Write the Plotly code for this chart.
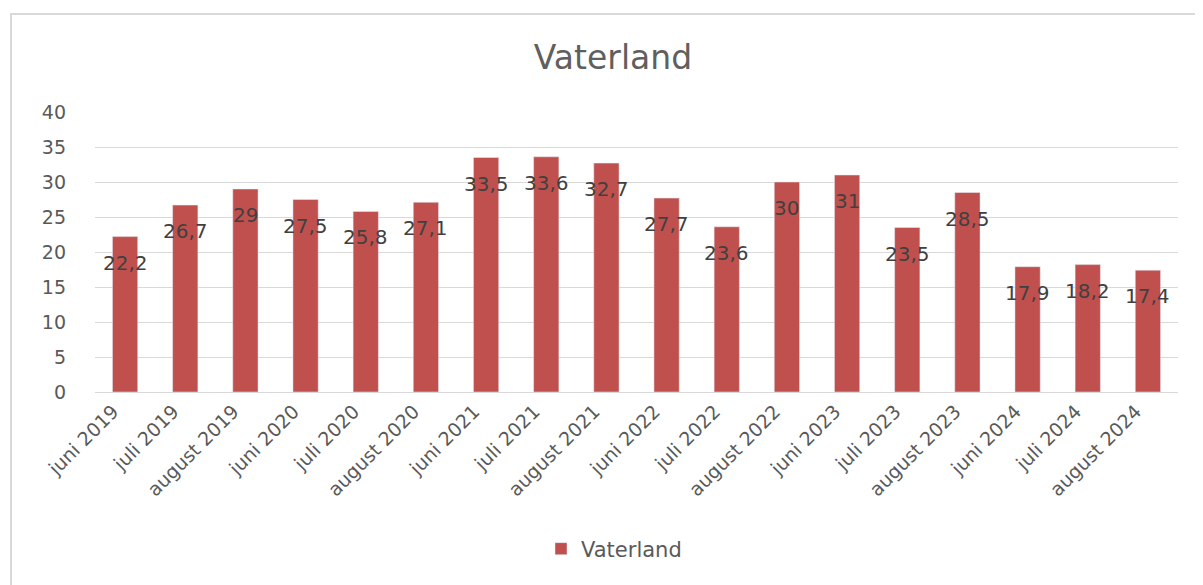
import plotly.graph_objects as go

categories = ["juni 2019", "juli 2019", "august 2019",
              "juni 2020", "juli 2020", "august 2020",
              "juni 2021", "juli 2021", "august 2021",
              "juni 2022", "juli 2022", "august 2022",
              "juni 2023", "juli 2023", "august 2023",
              "juni 2024", "juli 2024", "august 2024"]
values = [22.2, 26.7, 29, 27.5, 25.8, 27.1,
          33.5, 33.6, 32.7, 27.7, 23.6, 30,
          31, 23.5, 28.5, 17.9, 18.2, 17.4]
labels = [f"{v:g}".replace(".", ",") for v in values]
series_name = "Vaterland"
y_ticks = [0, 5, 10, 15, 20, 25, 30, 35, 40]

OFF = 8  # page body margin
W, H = 1203, 585
L, T = 95 - OFF, 112 - OFF
pw, ph = 1083, 280
R = W - L - pw
B = H - T - ph

def px_x(p):
    return (p - OFF - L) / pw

def px_y(p):
    return (T + ph - (p - OFF)) / ph

fig = go.Figure()
fig.add_trace(go.Bar(
    x=categories, y=values, name=series_name,
    marker=dict(color="#C0504D"),
    showlegend=True,
))

for c, v, t in zip(categories, values, labels):
    fig.add_annotation(x=c, y=v, text=t, showarrow=False,
                       yanchor="middle", xanchor="center", yshift=-26,
                       font=dict(family="DejaVu Sans", size=20, color="#404040"))

# chart border (top and left lines)
fig.add_shape(type="rect", xref="paper", yref="paper",
              x0=px_x(11), x1=px_x(W + 40),
              y0=px_y(H + 40), y1=px_y(14),
              line=dict(color="#D9D9D9", width=2), layer="below")

fig.update_layout(
    width=W, height=H,
    margin=dict(l=L, r=R, t=T, b=B),
    paper_bgcolor="white", plot_bgcolor="white",
    title=dict(text="Vaterland", x=(613 - OFF) / W, xanchor="center",
               y=1 - (57 - OFF) / H, yanchor="middle",
               font=dict(family="DejaVu Sans", size=33, color="#5f5f5f")),
    bargap=0.58,
    legend=dict(orientation="h", x=px_x(614), xanchor="center",
                y=px_y(549), yanchor="middle",
                font=dict(family="DejaVu Sans", size=21, color="#595959")),
    xaxis=dict(tickangle=-45, showgrid=False, showline=True,
               linecolor="#D9D9D9", linewidth=1, ticks="",
               ticklabelshift=-12,
               tickfont=dict(family="DejaVu Sans", size=19, color="#595959")),
    yaxis=dict(range=[0, 40], tickvals=y_ticks, showgrid=True,
               gridcolor="#D9D9D9", gridwidth=1, zeroline=False,
               showline=False, ticks="", ticklabelstandoff=28,
               tickfont=dict(family="DejaVu Sans", size=19, color="#595959")),
)

fig.write_html("out.html")
